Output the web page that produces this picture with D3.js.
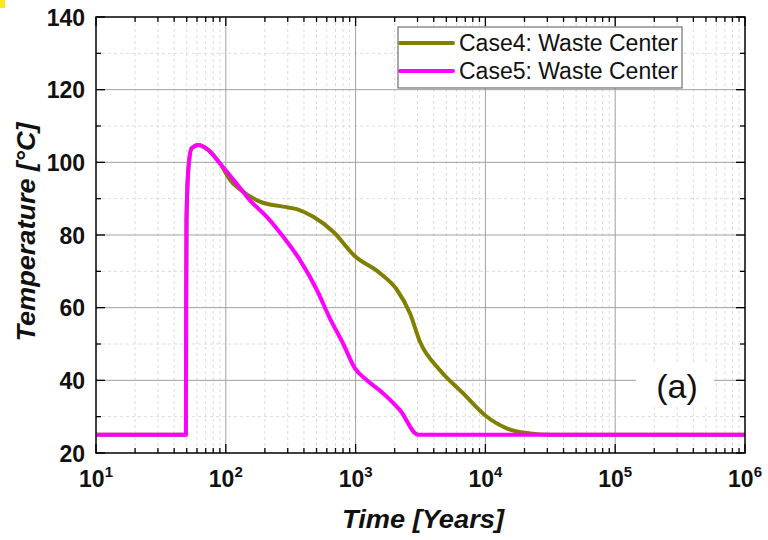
<!DOCTYPE html>
<html>
<head>
<meta charset="utf-8">
<script src="https://cdn.jsdelivr.net/npm/d3@7"></script>
<style>
  html, body { margin: 0; padding: 0; background: #fff; }
  svg { display: block; font-family: "Liberation Sans", Arial, sans-serif; }
</style>
</head>
<body>
<svg id="chart" width="768" height="540"></svg>
<script>
// ---- data (years, °C) ----
const case4Time = [10, 49.3, 49.5, 49.8, 51.4, 54.6, 61.4, 73.3, 90.2, 108, 136, 183, 277, 352, 472, 673, 980, 1542, 2075, 2627, 3135, 4467, 6757, 9931, 14590, 22070, 31500, 1e6];
const case4Temp = [25, 25, 60, 84, 97.9, 103.9, 104.8, 103.4, 99.7, 95.1, 91.9, 89.2, 87.8, 87.1, 85.0, 80.9, 74.3, 69.5, 65.0, 58.4, 50.6, 42.8, 36.4, 30.4, 26.8, 25.4, 25.0, 25.0];
const case5Time = [10, 49.3, 49.5, 49.8, 51.4, 54.6, 61.4, 73.3, 90.2, 121, 153, 207, 277, 373, 501, 635, 804, 989, 1216, 1633, 2198, 3040, 1e6];
const case5Temp = [25, 25, 60, 84, 97.9, 103.9, 104.8, 103.4, 99.7, 94.2, 89.6, 85.0, 79.5, 73.1, 65.0, 57.0, 50.0, 43.3, 40.1, 36.4, 31.8, 25.0, 25.0];
const seriesNames = ["Case4: Waste Center", "Case5: Waste Center"];
const seriesColors = ["#808000", "#ff00ff"];
const xDecades = [10, 100, 1000, 10000, 100000, 1000000];
const xExponents = ["1", "2", "3", "4", "5", "6"];
const yTicks = [20, 40, 60, 80, 100, 120, 140];
const yMinor = [30, 50, 70, 90, 110, 130];

const svg = d3.select("#chart");
const L = 96, R = 745, T = 17, B = 453;
const x = d3.scaleLog().domain([10, 1e6]).range([L, R]);
const y = d3.scaleLinear().domain([20, 140]).range([B, T]);

// yellow corner mark
svg.append("rect").attr("x", 0).attr("y", 0).attr("width", 5).attr("height", 8).attr("fill", "#ffe81a");

// minor x positions
const xMinor = [];
xDecades.slice(0, -1).forEach(d => { for (let k = 2; k <= 9; k++) xMinor.push(d * k); });

const g = svg.append("g");
// minor grid
g.selectAll(".mgx").data(xMinor).enter().append("line")
  .attr("x1", d => x(d)).attr("x2", d => x(d)).attr("y1", T).attr("y2", B)
  .attr("stroke", "#dcdcdc").attr("stroke-width", 1).attr("stroke-dasharray", "3,3");
g.selectAll(".mgy").data(yMinor).enter().append("line")
  .attr("x1", L).attr("x2", R).attr("y1", d => y(d)).attr("y2", d => y(d))
  .attr("stroke", "#dcdcdc").attr("stroke-width", 1).attr("stroke-dasharray", "3,3");
// major grid
g.selectAll(".Mgx").data(xDecades.slice(1, -1)).enter().append("line")
  .attr("x1", d => x(d)).attr("x2", d => x(d)).attr("y1", T).attr("y2", B)
  .attr("stroke", "#a0a0a0").attr("stroke-width", 1);
g.selectAll(".Mgy").data(yTicks.slice(1, -1)).enter().append("line")
  .attr("x1", L).attr("x2", R).attr("y1", d => y(d)).attr("y2", d => y(d))
  .attr("stroke", "#a0a0a0").attr("stroke-width", 1);

// white box behind (a)
svg.append("rect").attr("x", 636).attr("y", 364).attr("width", 78).attr("height", 40).attr("fill", "#fff");

// lines
const line = d3.line().x(d => x(d[0])).y(d => y(d[1])).curve(d3.curveMonotoneX);
const data4 = case4Time.map((t, i) => [t, case4Temp[i]]);
const data5 = case5Time.map((t, i) => [t, case5Temp[i]]);
svg.append("path").datum(data4).attr("d", line).attr("fill", "none")
  .attr("stroke", seriesColors[0]).attr("stroke-width", 4).attr("stroke-linejoin", "round");
svg.append("path").datum(data5).attr("d", line).attr("fill", "none")
  .attr("stroke", seriesColors[1]).attr("stroke-width", 4).attr("stroke-linejoin", "round");

// frame
svg.append("rect").attr("x", L).attr("y", T).attr("width", R - L).attr("height", B - T)
  .attr("fill", "none").attr("stroke", "#000").attr("stroke-width", 1.5);

// ticks (inward, all sides)
const tk = svg.append("g").attr("stroke", "#000").attr("stroke-width", 1.3);
xDecades.forEach(d => {
  tk.append("line").attr("x1", x(d)).attr("x2", x(d)).attr("y1", B).attr("y2", B - 9);
  tk.append("line").attr("x1", x(d)).attr("x2", x(d)).attr("y1", T).attr("y2", T + 9);
});
xMinor.forEach(d => {
  tk.append("line").attr("x1", x(d)).attr("x2", x(d)).attr("y1", B).attr("y2", B - 5);
  tk.append("line").attr("x1", x(d)).attr("x2", x(d)).attr("y1", T).attr("y2", T + 5);
});
yTicks.forEach(d => {
  tk.append("line").attr("x1", L).attr("x2", L + 9).attr("y1", y(d)).attr("y2", y(d));
  tk.append("line").attr("x1", R).attr("x2", R - 9).attr("y1", y(d)).attr("y2", y(d));
});
yMinor.forEach(d => {
  tk.append("line").attr("x1", L).attr("x2", L + 5).attr("y1", y(d)).attr("y2", y(d));
  tk.append("line").attr("x1", R).attr("x2", R - 5).attr("y1", y(d)).attr("y2", y(d));
});

// y tick labels
svg.selectAll(".yl").data(yTicks).enter().append("text")
  .attr("x", 85).attr("y", d => y(d) + 8.5).attr("text-anchor", "end")
  .attr("font-size", 23).attr("font-weight", "bold").attr("fill", "#111").text(d => d);

// x tick labels
xDecades.forEach((d, i) => {
  const t = svg.append("text").attr("x", x(d)).attr("y", 487).attr("text-anchor", "middle")
    .attr("font-size", 23).attr("font-weight", "bold").attr("fill", "#111");
  t.append("tspan").text("10");
  t.append("tspan").attr("font-size", 15).attr("dy", -10).text(xExponents[i]);
});

// axis titles
svg.append("text").attr("x", 423).attr("y", 528).attr("text-anchor", "middle")
  .attr("font-size", 26).attr("font-weight", "bold").attr("font-style", "italic").attr("fill", "#111")
  .attr("textLength", 162).attr("lengthAdjust", "spacingAndGlyphs")
  .text("Time [Years]");
svg.append("text").attr("transform", "translate(35,232) rotate(-90)").attr("text-anchor", "middle")
  .attr("font-size", 26).attr("font-weight", "bold").attr("font-style", "italic").attr("fill", "#111")
  .attr("textLength", 219).attr("lengthAdjust", "spacingAndGlyphs")
  .text("Temperature [°C]");

// (a)
svg.append("text").attr("x", 677).attr("y", 398).attr("text-anchor", "middle")
  .attr("font-size", 34).attr("fill", "#111").text("(a)");

// legend
const lg = svg.append("g");
lg.append("rect").attr("x", 398).attr("y", 27).attr("width", 284).attr("height", 61)
  .attr("fill", "#fff").attr("stroke", "#555").attr("stroke-width", 1);
seriesNames.forEach((n, i) => {
  const yy = 43 + i * 28;
  lg.append("line").attr("x1", 400).attr("x2", 453).attr("y1", yy).attr("y2", yy)
    .attr("stroke", seriesColors[i]).attr("stroke-width", 4).attr("stroke-linecap", "round");
  lg.append("text").attr("x", 459).attr("y", yy + 8).attr("font-size", 23).attr("fill", "#111").text(n);
});
</script>
</body>
</html>
